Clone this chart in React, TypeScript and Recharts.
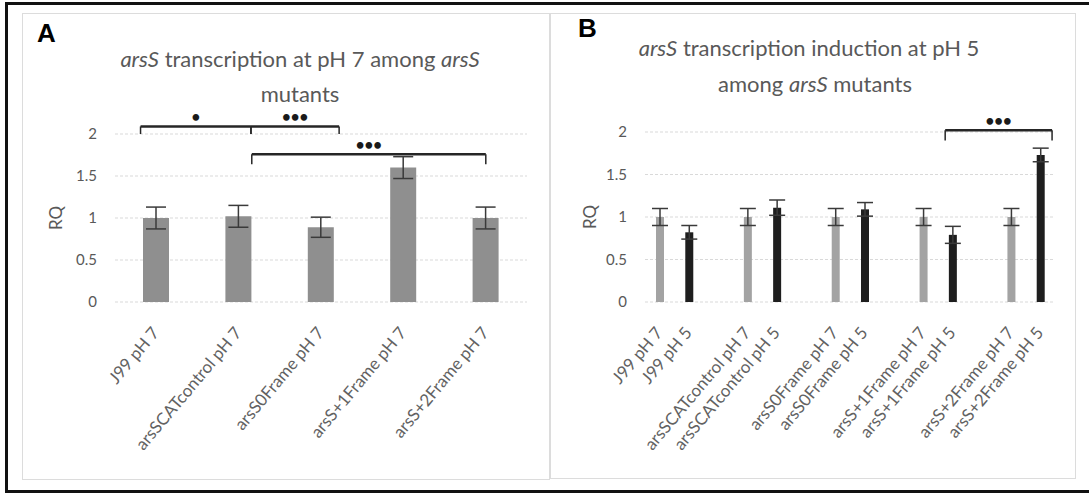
import React from "react";
import { BarChart, Bar, XAxis, YAxis, CartesianGrid, ErrorBar, ReferenceLine, Cell } from "recharts";

const categoriesA = ["J99 pH 7", "arsSCATcontrol pH 7", "arsS0Frame pH 7", "arsS+1Frame pH 7", "arsS+2Frame pH 7"];
const rqA = [1.0, 1.02, 0.89, 1.6, 1.0];
const errA = [0.13, 0.13, 0.12, 0.13, 0.13];

// blank strings are the empty slots Excel left between the pairs
const categoriesB = [
  "J99 pH 7", "J99 pH 5", "",
  "arsSCATcontrol pH 7", "arsSCATcontrol pH 5", "",
  "arsS0Frame pH 7", "arsS0Frame pH 5", "",
  "arsS+1Frame pH 7", "arsS+1Frame pH 5", "",
  "arsS+2Frame pH 7", "arsS+2Frame pH 5",
];
const rqB = [1.0, 0.82, null, 1.0, 1.11, null, 1.0, 1.09, null, 1.0, 0.79, null, 1.0, 1.73];
const errB = [0.1, 0.08, null, 0.1, 0.09, null, 0.1, 0.08, null, 0.1, 0.1, null, 0.1, 0.08];

const yTicks = [0, 0.5, 1, 1.5, 2];

// significance brackets, in axis units (slot index / RQ)
const bracketsA = [
  { from: -0.19, to: 1.15, y: 2.09, end: 2.0, stars: "•" },
  { from: 1.15, to: 2.22, y: 2.09, end: 2.0, stars: "•••" },
  { from: 1.16, to: 4.0, y: 1.76, end: 1.64, stars: "•••" },
];
const bracketsB = [{ from: 9.75, to: 13.4, y: 2.02, end: 1.9, stars: "•••" }];

const dataA = categoriesA.map((name, i) => ({ idx: i, name, rq: rqA[i], err: errA[i] }));
const dataB = categoriesB.map((name, i) => ({ idx: i, name, rq: rqB[i], err: errB[i] }));

const FONT = "Lato, 'Open Sans', sans-serif";
const TXT = "#595959";

function slantTick(labels: string[]) {
  return (props: any) => {
    const { x, y, payload } = props;
    const tx = x - 1;
    return (
      <text
        x={tx}
        y={y}
        transform={`rotate(-50 ${tx} ${y})`}
        textAnchor="end"
        dominantBaseline="central"
        fill="#626262"
        fontSize={17}
        fontFamily={FONT}
      >
        {labels[payload.value]}
      </text>
    );
  };
}

function brackets(list: typeof bracketsA) {
  const out: React.ReactNode[] = [];
  list.forEach((b, i) => {
    out.push(
      <ReferenceLine
        key={`h${i}`}
        segment={[{ x: b.from, y: b.y }, { x: b.to, y: b.y }]}
        stroke="#262626"
        strokeWidth={2.5}
        ifOverflow="visible"
        label={{ value: b.stars, position: "top", offset: 4, fill: "#1a1a1a", fontSize: 15, fontWeight: 700, fontFamily: FONT }}
      />,
      <ReferenceLine key={`l${i}`} segment={[{ x: b.from, y: b.y }, { x: b.from, y: b.end }]} stroke="#262626" strokeWidth={1.5} ifOverflow="visible" />,
      <ReferenceLine key={`r${i}`} segment={[{ x: b.to, y: b.y }, { x: b.to, y: b.end }]} stroke="#262626" strokeWidth={1.5} ifOverflow="visible" />
    );
  });
  return out;
}

const tickStyle = { fill: TXT, fontSize: 15, fontFamily: FONT };

export default function App() {
  const ticksB = dataB.filter((d) => d.name !== "").map((d) => d.idx);
  return (
    <div style={{ position: "absolute", left: 0, top: 0, width: 1089, height: 493, background: "#fff", fontFamily: FONT }}>
      <div style={{ position: "absolute", left: 22, top: 13 }}>
        <BarChart width={528} height={467} data={dataA} margin={{ top: 121, right: 23, bottom: 0, left: 0 }}>
          <CartesianGrid vertical={false} stroke="#d9d9d9" strokeDasharray="3 2" />
          <XAxis
            type="number"
            dataKey="idx"
            domain={[-0.5, 4.5]}
            ticks={[0, 1, 2, 3, 4]}
            interval={0}
            height={178}
            axisLine={false}
            tickLine={false}
            tickMargin={21}
            tick={slantTick(categoriesA)}
          />
          <YAxis domain={[0, 2]} ticks={yTicks} width={93} axisLine={false} tickLine={false} tickMargin={12} tick={tickStyle} />
          <Bar dataKey="rq" fill="#8f8f8f" barSize={26} isAnimationActive={false}>
            <ErrorBar dataKey="err" width={10} stroke="#3a3a3a" strokeWidth={1.5} />
          </Bar>
          {brackets(bracketsA)}
        </BarChart>
      </div>

      <div style={{ position: "absolute", left: 550, top: 13 }}>
        <BarChart width={526} height={466} data={dataB} margin={{ top: 119, right: 21, bottom: 0, left: 0 }}>
          <CartesianGrid vertical={false} stroke="#d9d9d9" strokeDasharray="3 2" />
          <XAxis
            type="number"
            dataKey="idx"
            domain={[-0.5, 13.5]}
            ticks={ticksB}
            interval={0}
            height={177}
            axisLine={false}
            tickLine={false}
            tickMargin={21}
            tick={slantTick(categoriesB)}
          />
          <YAxis domain={[0, 2]} ticks={yTicks} width={95} axisLine={false} tickLine={false} tickMargin={12} tick={tickStyle} />
          <Bar dataKey="rq" barSize={8} isAnimationActive={false}>
            {dataB.map((d) => (
              <Cell key={d.idx} fill={d.name.endsWith("pH 5") ? "#1e1e1e" : "#a3a3a3"} />
            ))}
            <ErrorBar dataKey="err" width={8} stroke="#3a3a3a" strokeWidth={1.5} />
          </Bar>
          {brackets(bracketsB)}
        </BarChart>
      </div>

      <svg width={1089} height={493} style={{ position: "absolute", left: 0, top: 0, pointerEvents: "none" }}>
        <rect x={22.5} y={13.5} width={527} height={466} fill="none" stroke="#dcdcdc" />
        <rect x={550.5} y={13.5} width={525} height={465} fill="none" stroke="#dcdcdc" />
        <rect x={5} y={2} width={1084} height={3} fill="#111" />
        <rect x={5} y={2} width={3} height={491} fill="#111" />
        <rect x={5} y={490} width={1084} height={3} fill="#111" />

        <text x={37} y={42} fontFamily="'Liberation Sans', Arial, sans-serif" fontWeight={700} fontSize={26} fill="#000">A</text>
        <text x={578} y={37} fontFamily="'Liberation Sans', Arial, sans-serif" fontWeight={700} fontSize={26} fill="#000">B</text>

        <g fontFamily={FONT} fontSize={22} fill={TXT} textAnchor="middle">
          <text x={300} y={67}>
            <tspan fontStyle="italic">arsS</tspan> transcription at pH 7 among <tspan fontStyle="italic">arsS</tspan>
          </text>
          <text x={300} y={102}>mutants</text>
          <text x={809} y={56}>
            <tspan fontStyle="italic">arsS</tspan> transcription induction at pH 5
          </text>
          <text x={815} y={92}>
            among <tspan fontStyle="italic">arsS</tspan> mutants
          </text>
        </g>

        <text x={55} y={218} transform="rotate(-90 55 218)" textAnchor="middle" dominantBaseline="central" fontFamily={FONT} fontSize={17} fill={TXT}>RQ</text>
        <text x={589} y={217} transform="rotate(-90 589 217)" textAnchor="middle" dominantBaseline="central" fontFamily={FONT} fontSize={17} fill={TXT}>RQ</text>
      </svg>
    </div>
  );
}
